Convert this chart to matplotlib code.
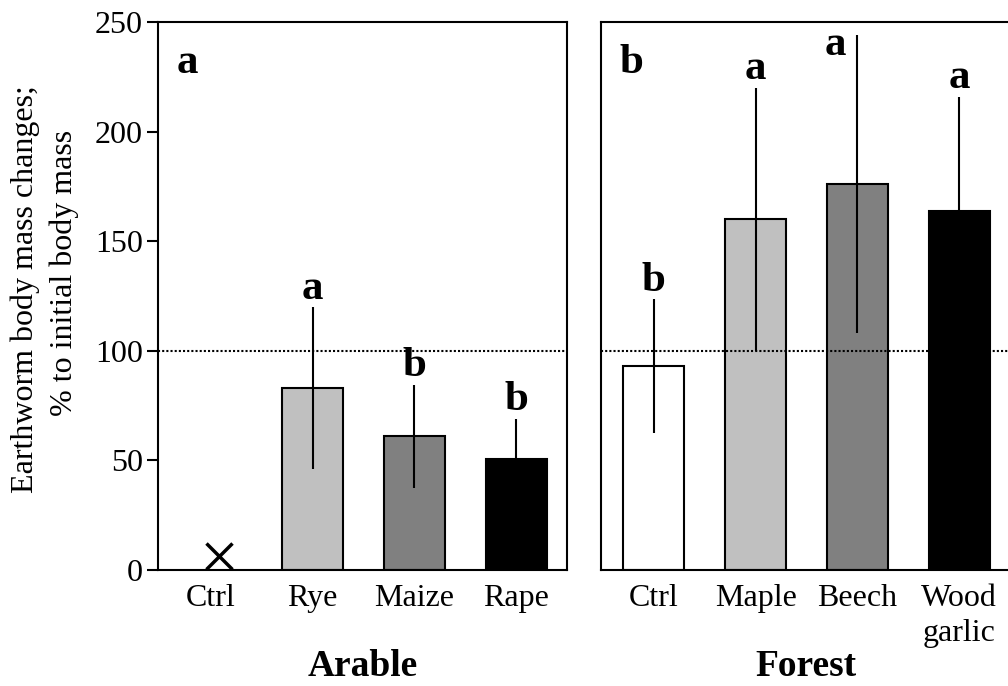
import numpy as np
import matplotlib
matplotlib.use("Agg")
import matplotlib.pyplot as plt

# =========================
# DATA
# =========================
arable_labels = ["Ctrl", "Rye", "Maize", "Rape"]
arable_mean = [np.nan, 83, 61, 50.5]
arable_err = [np.nan, 37, 23.5, 18.5]
arable_letters = ["", "a", "b", "b"]
arable_ctrl_dead = 6.5   # all control worms died -> cross

forest_labels = ["Ctrl", "Maple", "Beech", "Wood\ngarlic"]
forest_mean = [93, 160, 176, 164]
forest_err = [30.5, 60, 68, 52]
forest_letters = ["b", "a", "a", "a"]

bar_colors = ["white", "#c0c0c0", "#808080", "black"]
yticks = [0, 50, 100, 150, 200, 250]
reference_level = 100

# =========================
# STYLE
# =========================
plt.rcParams["font.family"] = ["Liberation Serif", "DejaVu Serif"]
plt.rcParams["axes.linewidth"] = 1.5

fig = plt.figure(figsize=(10.08, 6.86), dpi=100)
ax1 = fig.add_axes([0.1567, 0.1691, 0.4058, 0.7988])
ax2 = fig.add_axes([0.5962, 0.1691, 0.4058, 0.7988])


def draw_panel(ax, labels, means, errs, letters, tag, group):
    x = np.arange(len(labels))
    ax.bar(x, means, width=0.6, color=bar_colors, edgecolor="black",
           linewidth=1.5, zorder=2)
    ax.errorbar(x, means, yerr=errs, fmt="none", ecolor="black",
                elinewidth=1.5, capsize=0, zorder=3)
    ax.axhline(reference_level, color="black", linestyle=(0, (1, 1)),
               linewidth=1.5, zorder=4)

    for i, (m, e, s) in enumerate(zip(means, errs, letters)):
        if not s:
            continue
        top = m + e
        if top > 235:
            # error bar runs into the frame: letter goes beside it
            ax.text(x[i] - 0.22, 235, s, ha="center", va="baseline",
                    fontsize=31, fontweight="bold")
        else:
            ax.text(x[i], top + 3.8, s, ha="center", va="baseline",
                    fontsize=31, fontweight="bold")

    ax.text(0.045, 0.907, tag, transform=ax.transAxes, ha="left",
            va="baseline", fontsize=31, fontweight="bold")

    ax.set_xlim(-0.52, 3.5)
    ax.set_ylim(0, 250)
    ax.set_xticks(x)
    ax.set_xticklabels(labels, fontsize=23, linespacing=1.3)
    ax.tick_params(axis="x", length=0, pad=10)
    ax.text(0.5, -0.193, group, transform=ax.transAxes, ha="center",
            va="baseline", fontsize=27, fontweight="bold")


draw_panel(ax1, arable_labels, arable_mean, arable_err, arable_letters,
           "a", "Arable")
draw_panel(ax2, forest_labels, forest_mean, forest_err, forest_letters,
           "b", "Forest")

ax1.plot([0.08], [arable_ctrl_dead], marker="x", markersize=19,
         markeredgewidth=2.5, color="black", zorder=5)

ax1.set_yticks(yticks)
ax1.tick_params(axis="y", direction="out", length=8, width=1.5,
                labelsize=23, pad=3)
ax2.set_yticks([])

# two-line y label, each line placed on its own baseline
fig.text(0.0327, 0.578, "Earthworm body mass changes;", rotation=90,
         rotation_mode="anchor", ha="center", va="baseline", fontsize=23)
fig.text(0.0714, 0.6028, "% to initial body mass", rotation=90,
         rotation_mode="anchor", ha="center", va="baseline", fontsize=23)

fig.savefig("out.png", dpi=100)
